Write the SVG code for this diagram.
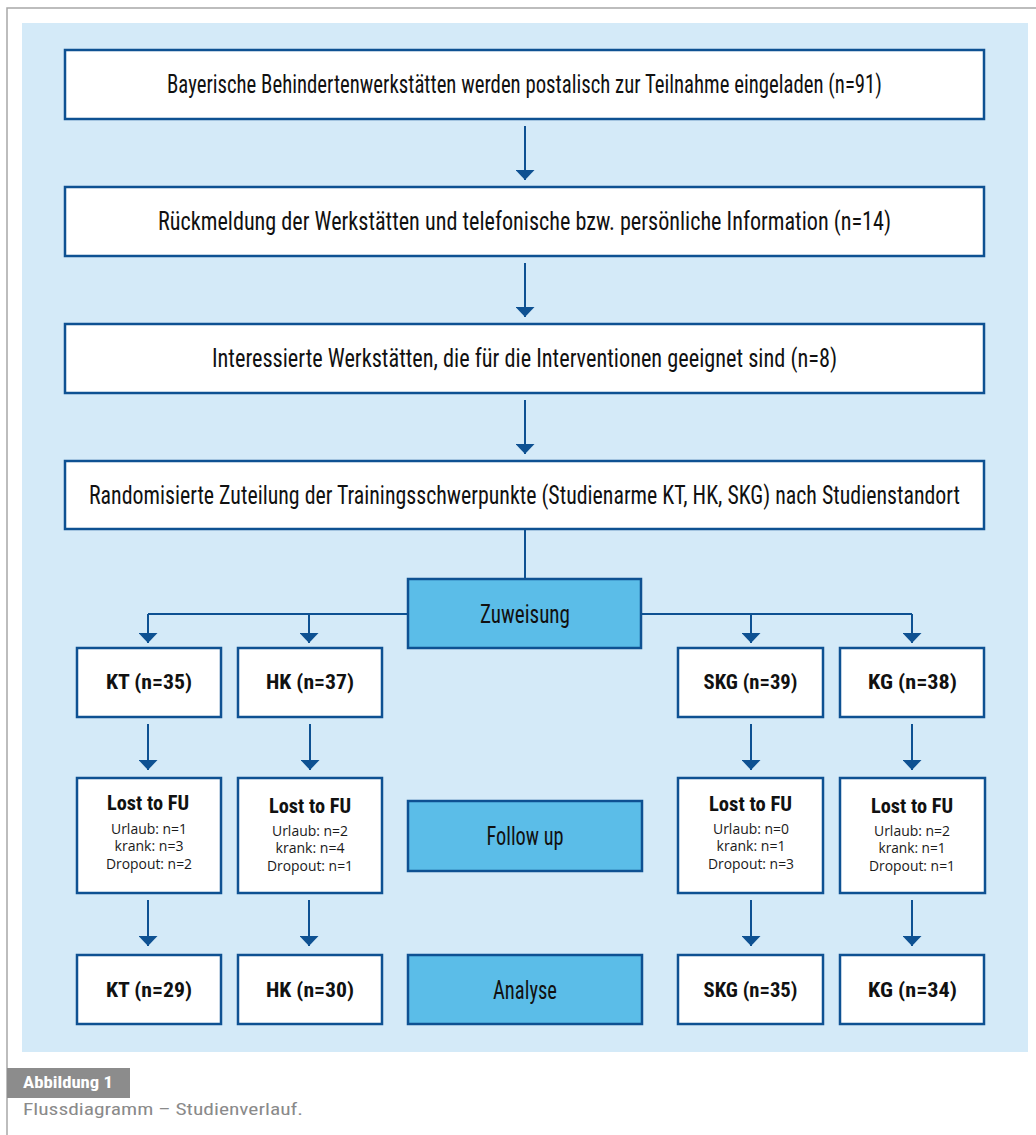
<svg xmlns="http://www.w3.org/2000/svg" width="1036" height="1135" viewBox="0 0 1036 1135">
<style>
.frame{fill:none;stroke:#a8a8a8;stroke-width:1.5}
.bg{fill:#d4eaf8}
.box{fill:#ffffff;stroke:#0e5192;stroke-width:2.5}
.phase{fill:#5bbde8;stroke:#0e5192;stroke-width:2.5}
.conn{fill:none;stroke:#0e5192;stroke-width:2}
.t{font-family:"Roboto Condensed","Liberation Sans Narrow","Liberation Sans",sans-serif;font-size:26px;fill:#111;text-anchor:middle}
.b{font-family:"Roboto Condensed","Liberation Sans Narrow","Liberation Sans",sans-serif;font-size:21px;font-weight:bold;fill:#111;text-anchor:middle}
.s{font-family:"Open Sans","Liberation Sans",sans-serif;font-size:14.5px;fill:#1a1a1a;text-anchor:middle}
.cap1{font-family:"Roboto Condensed","Liberation Sans Narrow","Liberation Sans",sans-serif;font-size:16px;font-weight:bold;fill:#ffffff}
.cap2{font-family:"Roboto Condensed","Liberation Sans Narrow","Liberation Sans",sans-serif;font-size:17px;fill:#8a8a8a}
</style>
<defs>
<marker id="ah" markerUnits="userSpaceOnUse" viewBox="0 0 10 19" refX="10" refY="9.5" markerWidth="10" markerHeight="19" orient="auto">
<path d="M0,0 L10,9.5 L0,19 z" fill="#0e5192"/>
</marker>
</defs>
<rect width="1036" height="1135" fill="#ffffff"/>
<path class="frame" d="M7,1135 V8 H1036"/>
<rect class="bg" x="22" y="23" width="1006" height="1029"/>

<g id="connectors">
<line class="conn" x1="525" y1="126" x2="525" y2="180" marker-end="url(#ah)"/>
<line class="conn" x1="525" y1="263" x2="525" y2="317" marker-end="url(#ah)"/>
<line class="conn" x1="525" y1="400" x2="525" y2="454" marker-end="url(#ah)"/>
<line class="conn" x1="525" y1="529" x2="525" y2="579"/>
<path class="conn" d="M408,614 H148"/>
<path class="conn" d="M641,614 H912"/>
<line class="conn" x1="148" y1="614" x2="148" y2="643" marker-end="url(#ah)"/>
<line class="conn" x1="309" y1="614" x2="309" y2="643" marker-end="url(#ah)"/>
<line class="conn" x1="751" y1="614" x2="751" y2="643" marker-end="url(#ah)"/>
<line class="conn" x1="912" y1="614" x2="912" y2="643" marker-end="url(#ah)"/>
<line class="conn" x1="148" y1="724" x2="148" y2="770" marker-end="url(#ah)"/>
<line class="conn" x1="310" y1="724" x2="310" y2="770" marker-end="url(#ah)"/>
<line class="conn" x1="751" y1="724" x2="751" y2="770" marker-end="url(#ah)"/>
<line class="conn" x1="912" y1="724" x2="912" y2="770" marker-end="url(#ah)"/>
<line class="conn" x1="148" y1="900" x2="148" y2="946" marker-end="url(#ah)"/>
<line class="conn" x1="309" y1="900" x2="309" y2="946" marker-end="url(#ah)"/>
<line class="conn" x1="751" y1="900" x2="751" y2="946" marker-end="url(#ah)"/>
<line class="conn" x1="912" y1="900" x2="912" y2="946" marker-end="url(#ah)"/>
</g>

<g id="n1"><rect class="box" x="65" y="50" width="919" height="69"/>
<text class="t" x="524.5" y="93" textLength="715" lengthAdjust="spacingAndGlyphs">Bayerische Behindertenwerkstätten werden postalisch zur Teilnahme eingeladen (n=91)</text></g>
<g id="n2"><rect class="box" x="65" y="187" width="919" height="69"/>
<text class="t" x="524.5" y="230" textLength="733" lengthAdjust="spacingAndGlyphs">Rückmeldung der Werkstätten und telefonische bzw. persönliche Information (n=14)</text></g>
<g id="n3"><rect class="box" x="65" y="324" width="919" height="69"/>
<text class="t" x="524.5" y="367" textLength="625" lengthAdjust="spacingAndGlyphs">Interessierte Werkstätten, die für die Interventionen geeignet sind (n=8)</text></g>
<g id="n4"><rect class="box" x="65" y="461" width="919" height="68"/>
<text class="t" x="524.5" y="504" textLength="871" lengthAdjust="spacingAndGlyphs">Randomisierte Zuteilung der Trainingsschwerpunkte (Studienarme KT, HK, SKG) nach Studienstandort</text></g>

<g id="zuweisung"><rect class="phase" x="408" y="579" width="233" height="69"/>
<text class="t" x="525" y="623" textLength="90" lengthAdjust="spacingAndGlyphs">Zuweisung</text></g>
<g id="followup"><rect class="phase" x="408" y="801" width="234" height="70"/>
<text class="t" x="525" y="845" textLength="77" lengthAdjust="spacingAndGlyphs">Follow up</text></g>
<g id="analyse"><rect class="phase" x="408" y="955" width="234" height="69"/>
<text class="t" x="525" y="999" textLength="64" lengthAdjust="spacingAndGlyphs">Analyse</text></g>

<g id="kt1"><rect class="box" x="77" y="648" width="144" height="69"/>
<text class="b" x="149" y="689" textLength="86" lengthAdjust="spacingAndGlyphs">KT (n=35)</text></g>
<g id="hk1"><rect class="box" x="238" y="648" width="144" height="69"/>
<text class="b" x="310" y="689" textLength="88" lengthAdjust="spacingAndGlyphs">HK (n=37)</text></g>
<g id="skg1"><rect class="box" x="678" y="648" width="145" height="69"/>
<text class="b" x="750.5" y="689" textLength="94" lengthAdjust="spacingAndGlyphs">SKG (n=39)</text></g>
<g id="kg1"><rect class="box" x="840" y="648" width="144" height="69"/>
<text class="b" x="912.5" y="689" textLength="89" lengthAdjust="spacingAndGlyphs">KG (n=38)</text></g>

<g id="kt2"><rect class="box" x="77" y="778" width="144" height="115"/>
<text class="b" x="148" y="810" textLength="82" lengthAdjust="spacingAndGlyphs">Lost to FU</text>
<text class="s" x="149" y="834" textLength="76" lengthAdjust="spacingAndGlyphs">Urlaub: n=1</text>
<text class="s" x="149" y="851" textLength="69" lengthAdjust="spacingAndGlyphs">krank: n=3</text>
<text class="s" x="149" y="869" textLength="86" lengthAdjust="spacingAndGlyphs">Dropout: n=2</text></g>
<g id="hk2"><rect class="box" x="238" y="778" width="144" height="115"/>
<text class="b" x="310" y="813" textLength="82" lengthAdjust="spacingAndGlyphs">Lost to FU</text>
<text class="s" x="310" y="836" textLength="76" lengthAdjust="spacingAndGlyphs">Urlaub: n=2</text>
<text class="s" x="310" y="853" textLength="69" lengthAdjust="spacingAndGlyphs">krank: n=4</text>
<text class="s" x="310" y="871" textLength="86" lengthAdjust="spacingAndGlyphs">Dropout: n=1</text></g>
<g id="skg2"><rect class="box" x="678" y="778" width="145" height="115"/>
<text class="b" x="750.5" y="811" textLength="83" lengthAdjust="spacingAndGlyphs">Lost to FU</text>
<text class="s" x="751" y="834" textLength="76" lengthAdjust="spacingAndGlyphs">Urlaub: n=0</text>
<text class="s" x="751" y="851" textLength="69" lengthAdjust="spacingAndGlyphs">krank: n=1</text>
<text class="s" x="751" y="869" textLength="86" lengthAdjust="spacingAndGlyphs">Dropout: n=3</text></g>
<g id="kg2"><rect class="box" x="840" y="778" width="145" height="115"/>
<text class="b" x="912" y="813" textLength="82" lengthAdjust="spacingAndGlyphs">Lost to FU</text>
<text class="s" x="912" y="836" textLength="76" lengthAdjust="spacingAndGlyphs">Urlaub: n=2</text>
<text class="s" x="912" y="853" textLength="67" lengthAdjust="spacingAndGlyphs">krank: n=1</text>
<text class="s" x="912" y="871" textLength="86" lengthAdjust="spacingAndGlyphs">Dropout: n=1</text></g>

<g id="kt3"><rect class="box" x="77" y="955" width="144" height="69"/>
<text class="b" x="149" y="997" textLength="86" lengthAdjust="spacingAndGlyphs">KT (n=29)</text></g>
<g id="hk3"><rect class="box" x="238" y="955" width="144" height="69"/>
<text class="b" x="310" y="997" textLength="88" lengthAdjust="spacingAndGlyphs">HK (n=30)</text></g>
<g id="skg3"><rect class="box" x="678" y="955" width="145" height="69"/>
<text class="b" x="750.5" y="997" textLength="94" lengthAdjust="spacingAndGlyphs">SKG (n=35)</text></g>
<g id="kg3"><rect class="box" x="840" y="955" width="144" height="69"/>
<text class="b" x="912.5" y="997" textLength="89" lengthAdjust="spacingAndGlyphs">KG (n=34)</text></g>

<g id="caption">
<rect x="7" y="1068" width="123" height="30" fill="#8c8c8c"/>
<text class="cap1" x="23" y="1088" textLength="90" lengthAdjust="spacingAndGlyphs">Abbildung 1</text>
<text class="cap2" x="23" y="1115" textLength="280" lengthAdjust="spacingAndGlyphs">Flussdiagramm – Studienverlauf.</text>
</g>
</svg>
